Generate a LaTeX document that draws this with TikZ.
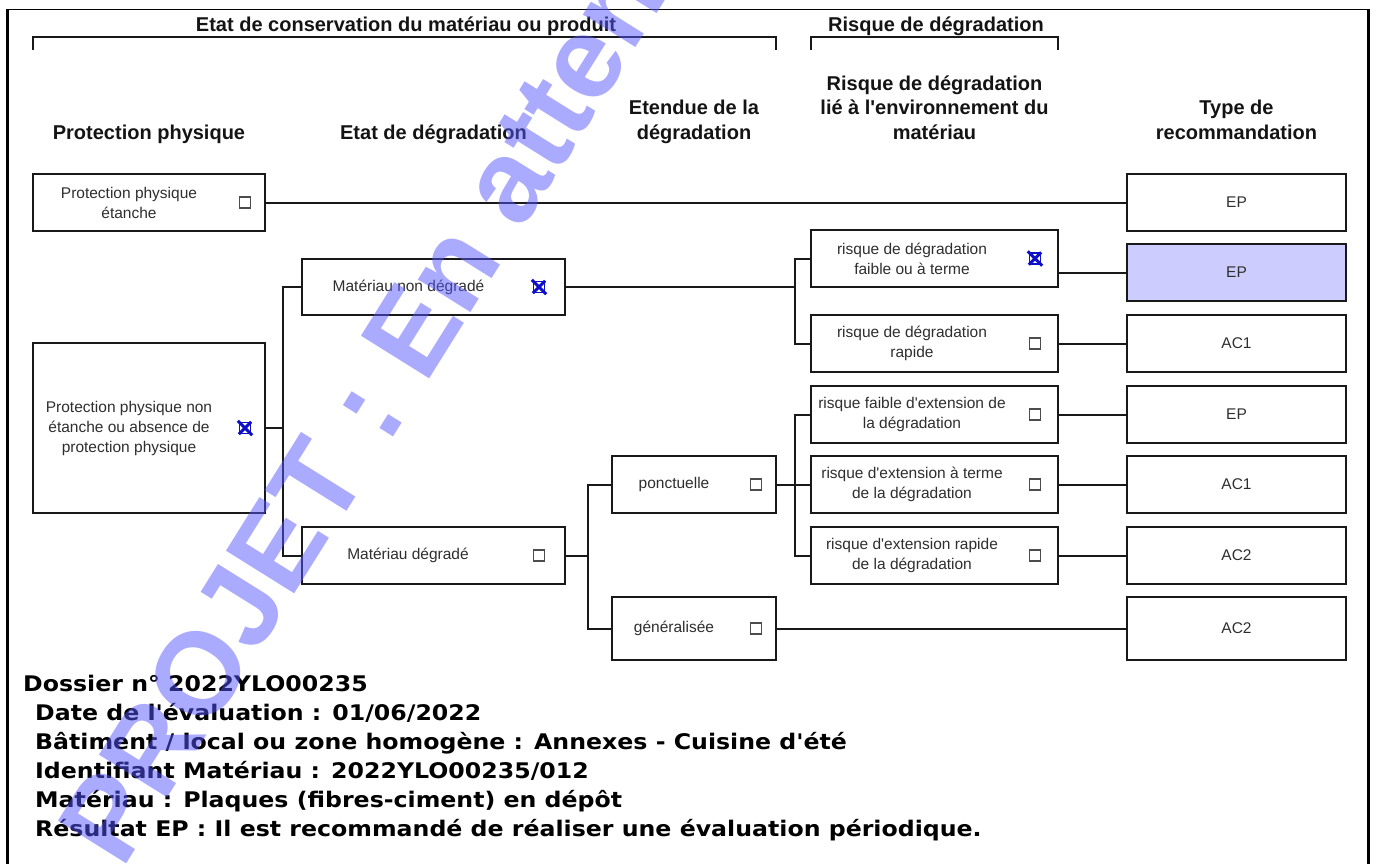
\documentclass[tikz,border=0pt]{standalone}
\usepackage{fontspec}
\setmainfont{Liberation Sans}
\newfontfamily\diagfont{Liberation Sans}
\newfontfamily\dossierfont[FakeStretch=1.1]{DejaVu Sans}
\definecolor{checkblue}{RGB}{15,15,200}
\definecolor{epfill}{RGB}{204,204,255}
\definecolor{projblue}{RGB}{85,85,255}
\definecolor{boxline}{RGB}{25,25,25}
\tikzset{
  box/.style={draw=boxline,line width=2pt,inner sep=0pt,minimum height=57pt},
  ppbox/.style={box,minimum width=232pt},
  etatbox/.style={box,minimum width=263pt},
  extbox/.style={box,minimum width=164pt},
  riskbox/.style={box,minimum width=247pt},
  recbox/.style={box,minimum width=219pt},
  boxtxt/.style={inner sep=0pt,align=center,text=black!82,font=\diagfont\fontsize{15.5}{20}\selectfont},
  hdr/.style={inner sep=0pt,align=center,text=black!92,font=\diagfont\bfseries\fontsize{20}{25}\selectfont},
  chk/.style={draw=black!70,line width=1.3pt,minimum size=11pt,inner sep=0pt},
  chkx/.style={chk,draw=checkblue},
  xmark/.style={draw=checkblue,line width=3pt,shorten >=-1.5pt,shorten <=-1.5pt},
  link/.style={draw=boxline,line width=2pt},
  bracket/.style={draw=black!90,line width=2pt},
  watermark/.style={inner sep=0pt,text=projblue,text opacity=0.5,font=\diagfont\bfseries\fontsize{117}{117}\selectfont},
  dossier/.style={inner sep=0pt,align=left,text=black,font=\dossierfont\bfseries\fontsize{21.5}{29}\selectfont},
}

\begin{document}
\begin{tikzpicture}[x=1pt,y=-1pt]
      \useasboundingbox (0,0) rectangle (1376,864);
      % frame
      \draw[line width=3pt] (7,864) -- (7,9.5);
      \draw[line width=1.5pt] (7,9.5) -- (1368,9.5);
      \draw[line width=3pt] (1368,9.5) -- (1368,864);
      % headers
      \node[hdr,anchor=base] (hcons) at (406,32) {Etat de conservation du matériau ou produit};
      \node[hdr,anchor=base] (hrisk) at (936,32) {Risque de dégradation};
      \draw[bracket] (33,50) -- (33,37.5) -- (776,37.5) -- (776,50);
      \draw[bracket] (811,50) -- (811,37.5) -- (1058,37.5) -- (1058,50);
      \node[hdr,anchor=base] (hpp) at (149,140) {Protection physique};
      \node[hdr,anchor=base] (hetat) at (433.5,140) {Etat de dégradation};
      \node[hdr,anchor=base] (hext) at (694,140) {Etendue de la\\dégradation};
      \node[hdr,anchor=base] (henv) at (934.5,140) {Risque de dégradation\\lié à l'environnement du\\matériau};
      \node[hdr,anchor=base] (hrec) at (1236.5,140) {Type de\\recommandation};
      % protection physique
      \node[ppbox] (pp1) at (149,202.5) {};
      \node[boxtxt] (pp1t) at (129,202.5) {Protection physique\\étanche};
      \node[chk] (pp1c) at (245,202.5) {};
      \node[ppbox,minimum height=170pt] (pp2) at (149,428) {};
      \node[boxtxt] (pp2t) at (129,428) {Protection physique non\\étanche ou absence de\\protection physique};
      \node[chkx] (pp2c) at (245,428) {};
      % etat de degradation
      \node[etatbox,minimum height=56pt] (nd) at (433.5,287) {};
      \node[boxtxt] (ndt) at (408.5,287) {Matériau non dégradé};
      \node[chkx] (ndc) at (539,287) {};
      \node[etatbox] (dg) at (433.5,555.5) {};
      \node[boxtxt] (dgt) at (408,555.5) {Matériau dégradé};
      \node[chk] (dgc) at (539,555.5) {};
      % etendue
      \node[extbox] (pc) at (694,484.5) {};
      \node[boxtxt] (pct) at (674,484.5) {ponctuelle};
      \node[chk] (pcc) at (756,484.5) {};
      \node[extbox,minimum height=63pt] (gn) at (694,628.5) {};
      \node[boxtxt] (gnt) at (674,628.5) {généralisée};
      \node[chk] (gnc) at (756,628.5) {};
      % risque lie a l'environnement
      \node[riskbox] (r1) at (934.5,258.5) {};
      \node[boxtxt] (r1t) at (912,258.5) {risque de dégradation\\faible ou à terme};
      \node[chkx] (r1c) at (1035,258.5) {};
      \node[riskbox] (r2) at (934.5,343.5) {};
      \node[boxtxt] (r2t) at (912,343.5) {risque de dégradation\\rapide};
      \node[chk] (r2c) at (1035,343.5) {};
      \node[riskbox] (r3) at (934.5,414.5) {};
      \node[boxtxt] (r3t) at (912,414.5) {risque faible d'extension de\\la dégradation};
      \node[chk] (r3c) at (1035,414.5) {};
      \node[riskbox] (r4) at (934.5,484.5) {};
      \node[boxtxt] (r4t) at (912,484.5) {risque d'extension à terme\\de la dégradation};
      \node[chk] (r4c) at (1035,484.5) {};
      \node[riskbox] (r5) at (934.5,555.5) {};
      \node[boxtxt] (r5t) at (912,555.5) {risque d'extension rapide\\de la dégradation};
      \node[chk] (r5c) at (1035,555.5) {};
      % crosses in the ticked boxes
      \foreach \c in {pp2c,ndc,r1c}
        \draw[xmark] (\c.south west) -- (\c.north east) (\c.north west) -- (\c.south east);
      % type de recommandation
      \node[recbox,boxtxt,draw=boxline,line width=2pt,minimum width=219pt,minimum height=57pt] (t1) at (1236.5,202.5) {EP};
      \node[recbox,boxtxt,draw=boxline,line width=2pt,minimum width=219pt,minimum height=57pt,fill=epfill] (t2) at (1236.5,272.5) {EP};
      \node[recbox,boxtxt,draw=boxline,line width=2pt,minimum width=219pt,minimum height=57pt] (t3) at (1236.5,343.5) {AC1};
      \node[recbox,boxtxt,draw=boxline,line width=2pt,minimum width=219pt,minimum height=57pt] (t4) at (1236.5,414.5) {EP};
      \node[recbox,boxtxt,draw=boxline,line width=2pt,minimum width=219pt,minimum height=57pt] (t5) at (1236.5,484.5) {AC1};
      \node[recbox,boxtxt,draw=boxline,line width=2pt,minimum width=219pt,minimum height=57pt] (t6) at (1236.5,555.5) {AC2};
      \node[recbox,boxtxt,draw=boxline,line width=2pt,minimum width=219pt,minimum height=63pt] (t7) at (1236.5,628.5) {AC2};
      % connectors
      \coordinate (j1) at (283,428);
      \coordinate (j2) at (795,287);
      \coordinate (j3) at (588,555.5);
      \coordinate (j4) at (795,484.5);
      \draw[link] (pp1) -- (t1);
      \draw[link] (pp2.east) -- (j1);
      \draw[link] (nd.west) -| (j1) |- (dg.west);
      \draw[link] (nd.east) -- (j2);
      \draw[link] (r1.west) -| (j2) |- (r2.west);
      \draw[link] (r1.east |- t2.west) -- (t2.west);
      \draw[link] (r2) -- (t3);
      \draw[link] (r3) -- (t4);
      \draw[link] (r4) -- (t5);
      \draw[link] (r5) -- (t6);
      \draw[link] (dg.east) -- (j3);
      \draw[link] (pc.west) -| (j3) |- (gn.west);
      \draw[link] (pc.east) -- (r4.west);
      \draw[link] (r3.west) -| (j4) |- (r5.west);
      \draw[link] (gn) -- (t7);
      % dossier
      \node[dossier,anchor=base west] (dos) at (23,691) {Dossier n° 2022YLO00235};
      \node[dossier,anchor=base west] (dosinfo) at (35,836) {Date de l'évaluation : 01/06/2022\\Bâtiment / local ou zone homogène : Annexes - Cuisine d'été\\Identifiant Matériau : 2022YLO00235/012\\Matériau : Plaques (fibres-ciment) en dépôt\\Résultat EP : Il est recommandé de réaliser une évaluation périodique.};
      % watermark
      \begin{scope}
        \clip (0,0) rectangle (1376,864);
        \node[watermark,anchor=base west,rotate=58] (projet) at (122,871) {PROJET : En attente};
      \end{scope}
    \end{tikzpicture}
\end{document}
